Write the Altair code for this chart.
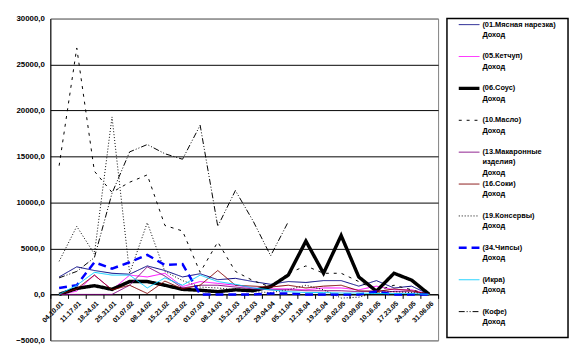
import altair as alt
import pandas as pd

weeks = ["04.10.01", "11.17.01", "18.24.01", "25.31.01", "01.07.02", "08.14.02",
         "15.21.02", "22.28.02", "01.07.03", "08.14.03", "15.21.03", "22.28.03",
         "29.04.04", "05.11.04", "12.18.04", "19.25.04", "26.02.05", "03.09.05",
         "10.16.05", "17.23.05", "24.30.05", "31.06.06"]

series = ["(01.Мясная нарезка) Доход", "(05.Кетчуп) Доход", "(06.Соус) Доход",
          "(10.Масло) Доход", "(13.Макаронные изделия) Доход", "(16.Соки) Доход",
          "(19.Консервы) Доход", "(34.Чипсы) Доход", "(Икра) Доход", "(Кофе) Доход"]

legend_labels = ["(01.Мясная нарезка)\nДоход", "(05.Кетчуп)\nДоход", "(06.Соус)\nДоход",
                 "(10.Масло)\nДоход", "(13.Макаронные\nизделия)\nДоход", "(16.Соки)\nДоход",
                 "(19.Консервы)\nДоход", "(34.Чипсы)\nДоход", "(Икра)\nДоход", "(Кофе)\nДоход"]

myaso = [1900, 3000, 2600, 2300, 2200, 3100, 2600, 1900, 2250, 1600, 1750, 1400, 1100, 1400, 1300, 1500, 1500, 900, 1500, 700, 900, 0]
ketchup = [0, 350, 2100, 500, 2100, 1900, 2300, 850, 1400, 1200, 1000, 700, 600, 600, 500, 700, 700, 500, 900, 500, 500, 0]
sous = [0, 650, 950, 550, 1400, 1400, 1000, 550, 450, 300, 500, 400, 850, 2100, 5800, 2300, 6400, 1900, 350, 2300, 1550, 0]
maslo = [14000, 26800, 13400, 11100, 12200, 13000, 7500, 6900, 2400, 5700, 2500, 1500, 800, 2300, 3100, 2300, 2300, 1400, 400, 1000, 500, 0]
makaron = [0, 0, 0, 0, 1000, 3000, 2000, 700, 1000, 1000, 800, 600, 500, 500, 400, 400, 400, 300, 400, 300, 300, 0]
soki = [0, 600, 2100, 500, 1000, 100, 1450, 600, 1000, 2600, 1000, 900, 800, 1000, 700, 900, 1000, 400, 300, 600, 400, 0]
konservy = [3600, 7400, 4400, 19300, 2300, 7800, 2500, 1500, 800, 700, 500, 300, 200, 500, 1000, 500, -400, -300, 200, 300, 200, 0]
chipsy = [700, 1000, 3500, 2800, 3500, 4300, 3200, 3300, 0, 0, 0, 0, 100, 100, 0, 0, 0, 0, 300, 0, 0, 0]
ikra = [0, 1000, 2400, 2100, 2100, 700, 1800, 1000, 2100, 1400, 1100, 700, 500, 300, 200, 200, 150, 150, 100, 100, 100, 0]
kofe = [1800, 2500, 4000, 11000, 15500, 16300, 15300, 14700, 18400, 7400, 11300, 8000, 4200, 7900,
        None, None, None, None, None, None, None, None]

all_values = [myaso, ketchup, sous, maslo, makaron, soki, konservy, chipsy, ikra, kofe]

colors = ["#000080", "#FF00FF", "#000000", "#000000", "#800080", "#800000",
          "#000000", "#0000FF", "#00CCFF", "#000000"]
dashes = [[1, 0], [1, 0], [1, 0], [3, 5], [1, 0], [1, 0], [1, 2], [8, 5], [1, 0], [6, 2, 1, 2, 1, 2]]
widths = [1, 1, 3.5, 1, 1, 1, 1, 2.5, 1, 1]

y_ticks = [-5000, 0, 5000, 10000, 15000, 20000, 25000, 30000]

rows = []
for k, (name, vals) in enumerate(zip(series, all_values)):
    for w, v in zip(weeks, vals):
        if v is not None:
            rows.append({"series": name, "week": w, "value": v, "order": k, "sw": widths[k]})
df = pd.DataFrame(rows)

leg = pd.DataFrame({"series": series, "label": legend_labels,
                    "idx": list(range(len(series))), "sw": widths})

color_scale = alt.Scale(domain=series, range=colors)
dash_scale = alt.Scale(domain=series, range=dashes)

FONT = "Liberation Sans"

main = alt.Chart(df).mark_line().encode(
    x=alt.X("week:N", sort=weeks,
            scale=alt.Scale(type="band", paddingInner=0, paddingOuter=0),
            bandPosition=0.5,
            axis=alt.Axis(title=None, labelAngle=-45, tickBand="extent", offset=-46.7,
                          domainColor="black", tickColor="black", tickSize=4,
                          labelFont=FONT, labelFontSize=7, labelFontWeight="bold",
                          labelColor="black", labelPadding=1, grid=False)),
    y=alt.Y("value:Q", scale=alt.Scale(domain=[-5000, 30000], nice=False, zero=False),
            axis=alt.Axis(title=None, values=y_ticks, grid=True,
                          gridColor={"condition": {"test": "datum.value === 30000 || datum.value === -5000",
                                                   "value": "#808080"}, "value": "black"},
                          gridWidth=1, ticks=False, domainColor="black",
                          labelExpr="replace(format(datum.value, '.1f'), '.', ',')",
                          labelFont=FONT, labelFontSize=8, labelFontWeight="bold",
                          labelColor="black", labelPadding=6)),
    color=alt.Color("series:N", scale=color_scale, legend=None),
    strokeDash=alt.StrokeDash("series:N", scale=dash_scale, legend=None),
    strokeWidth=alt.StrokeWidth("sw:Q", scale=None),
    order=alt.Order("order:Q"),
).properties(width=394, height=327, view=alt.ViewBackground(stroke="#808080", strokeWidth=1))

leg_y = alt.Y("idx:Q", scale=alt.Scale(domain=[-0.19, 9.81], reverse=True), axis=None)

leg_lines = alt.Chart(leg).mark_rule().encode(
    y=leg_y,
    x=alt.value(12), x2=alt.value(33),
    color=alt.Color("series:N", scale=color_scale, legend=None),
    strokeDash=alt.StrokeDash("series:N", scale=dash_scale, legend=None),
    strokeWidth=alt.StrokeWidth("sw:Q", scale=None),
)

leg_text = alt.Chart(leg).mark_text(align="left", baseline="top", dy=-4, lineBreak="\n",
                                    lineHeight=10.5, font=FONT, fontSize=7.5,
                                    fontWeight="bold", color="black").encode(
    y=leg_y, x=alt.value(36), text="label:N")

legend = alt.layer(leg_lines, leg_text).properties(
    width=123, height=324, view=alt.ViewBackground(stroke="black", strokeWidth=1.5))

chart = alt.hconcat(main, legend, spacing=7).properties(
    padding={"left": 7, "top": 3, "right": 0, "bottom": 0}
).resolve_scale(color="shared", strokeDash="shared").configure_view(
    stroke=None)

chart.save("out.html", embed_options={"renderer": "svg", "actions": False})
